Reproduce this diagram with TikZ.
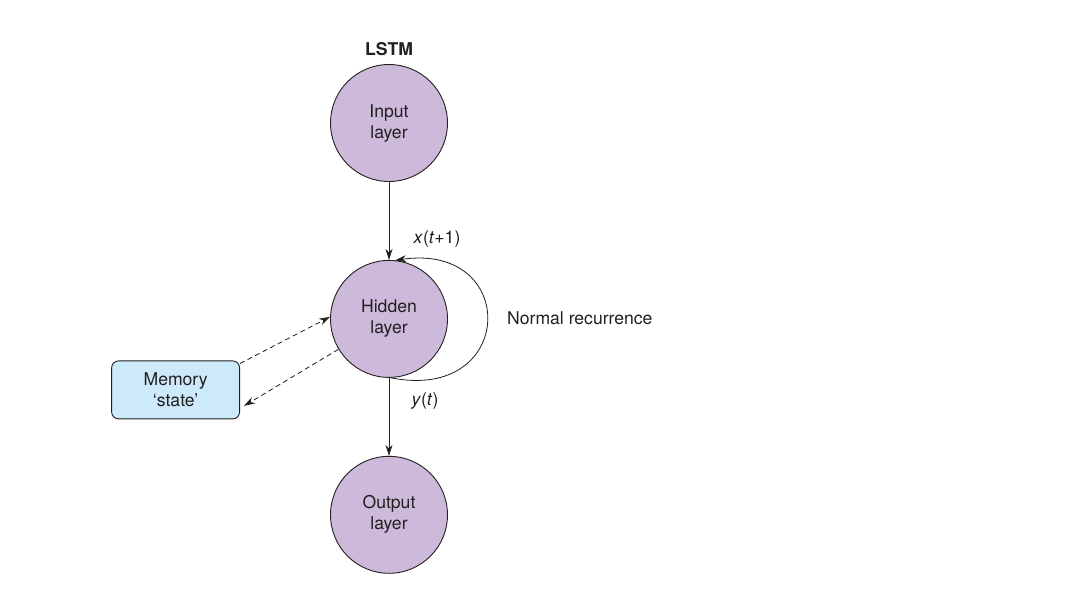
\documentclass[tikz,border=0pt]{standalone}
\usepackage{fontspec}
\setmainfont{TeX Gyre Heros}
\usetikzlibrary{arrows.meta, positioning, calc}
\definecolor{layerfill}{HTML}{CDBADB}
\definecolor{memfill}{HTML}{CCEAFA}
\definecolor{inkdark}{HTML}{231F20}

\begin{document}
\begin{tikzpicture}[
    x=1pt, y=-1pt,
    node distance=78pt and 90pt,
    >={Stealth[length=11pt,width=7pt]},
    every node/.style={font=\fontsize{17.6}{21}\selectfont, text=inkdark},
    layer/.style={draw=inkdark, circle, fill=layerfill, minimum size=117pt, inner sep=0pt, align=center, line width=0.9pt},
    membox/.style={draw=inkdark, rounded corners=7pt, fill=memfill, minimum width=128pt, minimum height=58pt, align=center, line width=0.9pt},
    lbl/.style={inner sep=0pt},
    flow/.style={->, line width=0.8pt, inkdark},
    memflow/.style={->, line width=0.8pt, inkdark, dash pattern=on 5pt off 3.5pt}
  ]
    \useasboundingbox (0,0) rectangle (1073,595);
    \node[layer] (input) at (389,123) {Input\\layer};
    \node[layer, below=of input] (hidden) {Hidden\\layer};
    \node[layer, below=of hidden] (output) {Output\\layer};
    \node[membox, left=of hidden, yshift=-71pt] (memory) {Memory\\`state'};
    \node[lbl, above=8pt of input, font=\bfseries\fontsize{17.6}{21}\selectfont] (title) {LSTM};
    \node[lbl] (xlabel) at ($(hidden.north)+(48,-21)$) {\textit{x}(\textit{t}+1)};
    \node[lbl] (ylabel) at ($(hidden.south)+(36,23)$) {\textit{y}(\textit{t})};
    \node[lbl, anchor=west] (recur) at ($(hidden.east)+(59,-1)$) {Normal recurrence};

    \draw[flow] (input) -- (hidden);
    \draw[flow] (hidden) -- (output);
    \draw[flow] (hidden.-88) .. controls +(125,25) and +(125,-18) .. (hidden.84);
    \draw[memflow] ([yshift=-3pt]memory.north east) -- (hidden.178);
    \draw[memflow] (hidden.211) -- ([xshift=4pt, yshift=-16pt]memory.east);
  \end{tikzpicture}
\end{document}
